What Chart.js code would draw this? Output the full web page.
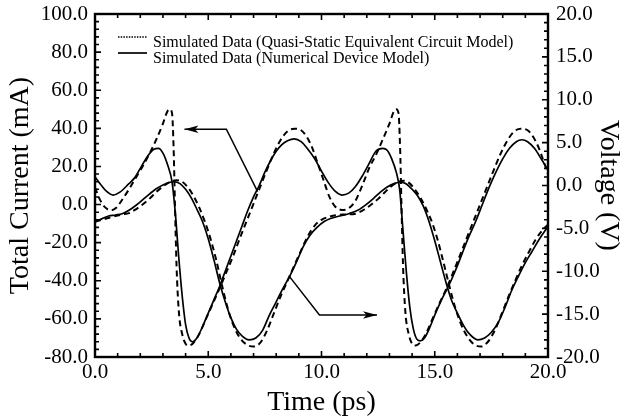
<!DOCTYPE html>
<html><head><meta charset="utf-8">
<script src="https://cdn.jsdelivr.net/npm/chart.js@4.4.0/dist/chart.umd.min.js"></script>
<style>html,body{margin:0;padding:0;background:#fff;}canvas{display:block;}</style>
</head><body>
<canvas id="c" width="624" height="419"></canvas>
<script>
// ---- data ----
const timeTicks = [0, 5, 10, 15, 20];
const currentTicks = [-80, -60, -40, -20, 0, 20, 40, 60, 80, 100];
const voltageTicks = [-20, -15, -10, -5, 0, 5, 10, 15, 20];

// Total current, numerical device model (mA)
const tCurNum = [0,0.25,0.5,0.8,1.1,1.5,1.75,2.0,2.3,2.6,2.8,3.0,3.2,3.4,3.55,3.7,3.85,4.0,4.15,4.3,4.5,4.75,5.0,5.25,5.5,5.75,6.0,6.25,6.5,6.75,7.0,7.25,7.5,7.75,8.0,8.25,8.5,8.8,9.1,9.4,9.7,10.0,10.3,10.6,10.9,11.2,11.5,11.8,12.1,12.4,12.7,12.9,13.1,13.3,13.45,13.6,13.75,13.9,14.05,14.2,14.35,14.55,14.8,15.0,15.3,15.6,15.9,16.2,16.5,16.8,17.1,17.4,17.7,18.0,18.3,18.6,18.85,19.1,19.4,19.7,20.0];
const curNum = [14.5,10.5,7,5,6.5,11,14,19,25,29,29.5,27,21,12,-5,-28,-48,-63,-70,-72,-70,-64,-57,-50,-43,-35,-27,-19,-11,-3,4,10,17,23,28,31.5,33.5,34.5,33,29,24,17.5,11.5,7,5,6,9.5,15,21.5,28,29.5,28.5,24,17,8,-14,-36,-54,-65,-70.5,-71.5,-70,-64,-58,-50,-43,-35,-26,-17,-9,0,9,17,24,29.5,33,34,33,29.5,24,18];

// Total current, quasi-static equivalent circuit model (mA)
const tCurQs = [0,0.2,0.45,0.7,0.95,1.2,1.5,1.8,2.1,2.4,2.7,3.0,3.2,3.3,3.4,3.47,3.53,3.6,3.7,3.85,4.0,4.15,4.35,4.6,4.9,5.2,5.5,5.8,6.1,6.4,6.7,7.0,7.3,7.6,7.9,8.2,8.5,8.8,9.1,9.35,9.6,9.85,10.1,10.35,10.6,10.9,11.2,11.5,11.8,12.1,12.4,12.7,13.0,13.2,13.3,13.4,13.47,13.53,13.6,13.7,13.85,14.0,14.15,14.35,14.6,14.9,15.2,15.5,15.8,16.1,16.4,16.7,17.0,17.3,17.6,17.9,18.2,18.5,18.8,19.1,19.35,19.6,19.8,20.0];
const curQs = [9,3,-1.5,-3,-1.5,2.5,8,14,20,26.5,34,42.5,49,50,48,30,0,-32,-56,-68,-73,-74,-72.5,-68,-60,-52,-44,-35.5,-27,-17.5,-8.5,0.5,9.5,18.5,27,34,38.5,39.8,39,35.5,29.5,21,12.5,4,-1,-2.8,-2,2,10,19,26,34,42.5,49,50,48,30,0,-32,-56,-68,-73,-74,-72.5,-68,-60,-52,-44.5,-36,-27,-18,-9,0,9,18,26.5,33.5,38.3,39.8,39,35.5,29.5,23,16];

// Voltage, numerical device model (V)
const tVoltNum = [0,0.3,0.6,0.9,1.2,1.5,1.8,2.1,2.4,2.7,3.0,3.3,3.5,3.75,4.0,4.25,4.5,4.75,5.0,5.25,5.5,5.75,6.0,6.25,6.5,6.8,7.1,7.4,7.7,8.0,8.3,8.6,8.9,9.2,9.5,9.8,10.1,10.4,10.8,11.2,11.6,12.0,12.3,12.6,12.9,13.2,13.5,13.75,14.0,14.25,14.5,14.75,15.0,15.25,15.5,15.75,16.0,16.25,16.5,16.9,17.2,17.5,17.8,18.1,18.4,18.7,19.0,19.3,19.6,20.0];
const voltNum = [-4.22,-3.89,-3.56,-3.44,-3.29,-2.89,-2.33,-1.67,-1.0,-0.38,0.07,0.38,0.44,0.22,-0.44,-1.44,-2.78,-4.22,-6.22,-8.67,-11.33,-13.56,-15.44,-16.78,-17.56,-18.0,-17.78,-16.89,-15.11,-13.56,-12.0,-10.56,-8.89,-7.11,-5.78,-4.89,-4.22,-3.84,-3.56,-3.29,-2.89,-2.16,-1.49,-0.78,-0.18,0.22,0.4,0.18,-0.44,-1.22,-2.44,-4.22,-6.44,-8.89,-11.33,-13.44,-14.89,-16.22,-17.22,-18.0,-17.78,-17.11,-16.0,-14.22,-12.22,-10.56,-9.0,-7.67,-6.33,-4.78];

// Voltage, quasi-static equivalent circuit model (V)
const tVoltQs = [0,0.3,0.6,0.9,1.2,1.5,1.8,2.1,2.4,2.7,3.0,3.3,3.6,3.85,4.1,4.35,4.6,4.85,5.1,5.35,5.6,5.85,6.1,6.4,6.7,7.0,7.3,7.6,7.9,8.2,8.5,8.8,9.1,9.4,9.7,10.0,10.3,10.7,11.1,11.5,11.9,12.2,12.5,12.8,13.1,13.4,13.65,13.9,14.15,14.4,14.65,14.9,15.15,15.4,15.65,15.9,16.15,16.45,16.75,17.05,17.35,17.65,17.95,18.25,18.55,18.85,19.15,19.45,19.75,20.0];
const voltQs = [-4.22,-4.0,-3.78,-3.56,-3.38,-3.22,-2.78,-2.22,-1.56,-0.78,-0.11,0.4,0.62,0.44,-0.22,-1.22,-2.56,-4.22,-6.22,-8.67,-11.56,-14.22,-16.22,-17.78,-18.56,-18.78,-18.33,-16.89,-14.89,-12.89,-11.11,-9.33,-7.56,-5.89,-4.67,-4.0,-3.67,-3.44,-3.38,-3.29,-2.78,-2.22,-1.56,-0.78,-0.04,0.44,0.56,0.22,-0.56,-1.56,-2.89,-4.44,-6.56,-9.11,-11.78,-14.22,-16.11,-17.67,-18.56,-18.78,-18.22,-16.89,-15.0,-13.0,-11.11,-9.33,-7.78,-6.33,-5.22,-4.56];

const legendLabels = ['Simulated Data (Quasi-Static Equivalent Circuit Model)', 'Simulated Data (Numerical Device Model)'];
// annotation arrows, in data units: [time, value] on the given axis
const arrowCurrent = [[7.18, 6.8], [5.8, 39.5], [3.95, 39.5]];
const arrowVoltage = [[8.58, -10.6], [9.91, -15.1], [12.45, -15.1]];

// ---- chart ----
const FONT = "'Liberation Serif','Times New Roman',serif";
Chart.defaults.font.family = FONT;
Chart.defaults.color = '#000';
const pts = (ts, vs) => ts.map((t, i) => ({x: t, y: vs[i]}));
const solid = {borderColor: '#000', borderWidth: 1.7, pointRadius: 0, fill: false, cubicInterpolationMode: 'monotone'};
const dashed = {borderColor: '#000', borderWidth: 2, borderDash: [6, 4], pointRadius: 0, fill: false, cubicInterpolationMode: 'monotone'};

const decoPlugin = {
  id: 'deco',
  afterDatasetsDraw(chart) {
    const {ctx, chartArea: a, scales} = chart;
    const x = scales.x, y = scales.y, y2 = scales.y2;
    ctx.save();
    ctx.strokeStyle = '#000';
    ctx.fillStyle = '#000';
    // inward ticks
    ctx.lineWidth = 1.6;
    ctx.beginPath();
    for (let i = 0; i <= 20; i++) {
      const px = x.getPixelForValue(i);
      const len = i % 5 === 0 ? 6 : 4;
      ctx.moveTo(px, a.bottom); ctx.lineTo(px, a.bottom - len);
      ctx.moveTo(px, a.top); ctx.lineTo(px, a.top + len);
    }
    for (let i = 0; i <= 45; i++) {
      const py = y.getPixelForValue(-80 + 4 * i);
      const len = i % 5 === 0 ? 6 : 4;
      ctx.moveTo(a.left, py); ctx.lineTo(a.left + len, py);
    }
    for (let i = 0; i <= 40; i++) {
      const py = y2.getPixelForValue(-20 + i);
      const len = i % 5 === 0 ? 6 : 4;
      ctx.moveTo(a.right, py); ctx.lineTo(a.right - len, py);
    }
    ctx.stroke();
    // frame
    ctx.lineWidth = 2.4;
    ctx.strokeRect(a.left, a.top, a.right - a.left, a.bottom - a.top);

    // arrows
    const drawArrow = (list, ys) => {
      const p = list.map(([t, v]) => [x.getPixelForValue(t), ys.getPixelForValue(v)]);
      ctx.lineWidth = 1.5;
      ctx.setLineDash([]);
      ctx.beginPath();
      ctx.moveTo(p[0][0], p[0][1]);
      for (let k = 1; k < p.length; k++) ctx.lineTo(p[k][0], p[k][1]);
      ctx.stroke();
      const [x1, y1] = p[p.length - 2], [x2, y2p] = p[p.length - 1];
      const ang = Math.atan2(y2p - y1, x2 - x1);
      const L = 14, W = 3.8;
      ctx.beginPath();
      ctx.moveTo(x2, y2p);
      ctx.lineTo(x2 - L * Math.cos(ang) + W * Math.sin(ang), y2p - L * Math.sin(ang) - W * Math.cos(ang));
      ctx.lineTo(x2 - 0.75 * L * Math.cos(ang), y2p - 0.75 * L * Math.sin(ang));
      ctx.lineTo(x2 - L * Math.cos(ang) - W * Math.sin(ang), y2p - L * Math.sin(ang) + W * Math.cos(ang));
      ctx.closePath();
      ctx.fill();
    };
    drawArrow(arrowCurrent, y);
    drawArrow(arrowVoltage, y2);

    // legend
    const lx = a.left + 23, tx = a.left + 58;
    ctx.lineWidth = 1.4;
    ctx.setLineDash([1.5, 1.2]);
    ctx.beginPath(); ctx.moveTo(lx, a.top + 23); ctx.lineTo(lx + 29, a.top + 23); ctx.stroke();
    ctx.setLineDash([]);
    ctx.lineWidth = 1.7;
    ctx.beginPath(); ctx.moveTo(lx, a.top + 39); ctx.lineTo(lx + 29, a.top + 39); ctx.stroke();
    ctx.font = '16px ' + FONT;
    ctx.textBaseline = 'alphabetic';
    ctx.textAlign = 'left';
    ctx.fillText(legendLabels[0], tx, a.top + 33);
    ctx.fillText(legendLabels[1], tx, a.top + 49);
    ctx.restore();
  }
};

const tickFont = {size: 21, family: FONT};
const titleFont = {size: 28, family: FONT, lineHeight: 1.1};
const fmt = v => Number(v).toFixed(1);
const noVPad = s => { s.paddingTop = 0; s.paddingBottom = 0; };

new Chart(document.getElementById('c'), {
  type: 'line',
  data: {
    datasets: [
      {label: legendLabels[0] + ' current', data: pts(tCurQs, curQs), yAxisID: 'y', ...dashed},
      {label: legendLabels[1] + ' current', data: pts(tCurNum, curNum), yAxisID: 'y', ...solid},
      {label: legendLabels[0] + ' voltage', data: pts(tVoltQs, voltQs), yAxisID: 'y2', ...dashed},
      {label: legendLabels[1] + ' voltage', data: pts(tVoltNum, voltNum), yAxisID: 'y2', ...solid}
    ]
  },
  options: {
    responsive: false,
    animation: false,
    layout: {padding: {top: 14, left: 0, right: 0, bottom: 0}},
    plugins: {legend: {display: false}, tooltip: {enabled: false}},
    scales: {
      x: {
        type: 'linear', min: 0, max: 20,
        afterBuildTicks: s => { s.ticks = timeTicks.map(v => ({value: v})); },
        afterFit: s => { s.height = 62; s.paddingLeft = 0; s.paddingRight = 0; },
        ticks: {font: tickFont, color: '#000', padding: 3, maxRotation: 0, autoSkip: false, callback: fmt},
        grid: {display: false, drawTicks: false},
        border: {display: false},
        title: {display: true, text: 'Time (ps)', font: titleFont, color: '#000', padding: {top: 0, bottom: 1}}
      },
      y: {
        position: 'left', min: -80, max: 100,
        afterBuildTicks: s => { s.ticks = currentTicks.map(v => ({value: v})); },
        afterFit: s => { s.width = 95; noVPad(s); },
        ticks: {font: tickFont, color: '#000', padding: 7, autoSkip: false, callback: fmt},
        grid: {display: false, drawTicks: false},
        border: {display: false},
        title: {display: true, text: 'Total Current (mA)', font: titleFont, color: '#000', padding: {top: 5, bottom: 0}}
      },
      y2: {
        position: 'right', min: -20, max: 20,
        afterBuildTicks: s => { s.ticks = voltageTicks.map(v => ({value: v})); },
        afterFit: s => { s.width = 76; noVPad(s); },
        ticks: {font: tickFont, color: '#000', padding: 8, autoSkip: false, callback: fmt},
        grid: {display: false, drawTicks: false},
        border: {display: false},
        title: {display: true, text: 'Voltage (V)', font: titleFont, color: '#000', padding: {top: 0, bottom: 0}}
      }
    }
  },
  plugins: [decoPlugin]
});
</script>
</body></html>
